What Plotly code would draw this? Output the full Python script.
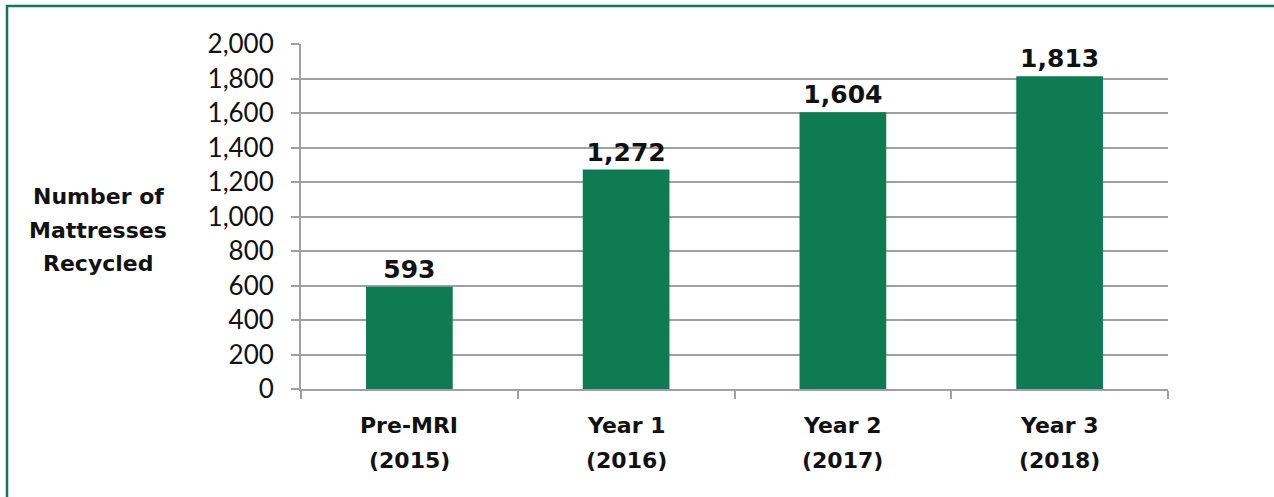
import plotly.graph_objects as go

categories = ["Pre-MRI", "Year 1", "Year 2", "Year 3"]
years = ["(2015)", "(2016)", "(2017)", "(2018)"]
values = [593, 1272, 1604, 1813]
y_ticks = [0, 200, 400, 600, 800, 1000, 1200, 1400, 1600, 1800, 2000]
y_title_lines = ["Number of", "Mattresses", "Recycled"]

GREEN = "#0E7B54"
GRID = "#A0A0A0"
BOLD_FONT = "DejaVu Sans"
TICK_FONT = "Lato"

fig = go.Figure()
fig.add_trace(go.Bar(
    x=categories, y=values,
    marker=dict(color=GREEN, line=dict(width=0)),
    texttemplate="%{y:,}", textposition="outside", cliponaxis=False,
    textfont=dict(family=BOLD_FONT, size=25, color="#111111", weight="bold"),
    hoverinfo="skip",
))

L, R, T, B = 301, 106, 44, 108
W, H = 1274, 497
pw, ph = W - L - R, H - T - B

def px_x(p):
    return (p - L) / pw

def px_y(p):
    return (H - B - p) / ph

annotations = []
for name, yr in zip(categories, years):
    for txt, py in ((name, 425), (yr, 460)):
        annotations.append(dict(
            text=f"<b>{txt}</b>", x=name, xref="x", yref="paper", y=px_y(py),
            xanchor="center", yanchor="middle", showarrow=False,
            font=dict(family=BOLD_FONT, size=22, color="#111111"),
        ))
for txt, py in zip(y_title_lines, (196, 230, 263)):
    annotations.append(dict(
        text=f"<b>{txt}</b>", xref="paper", yref="paper", x=px_x(98), y=px_y(py),
        xanchor="center", yanchor="middle", showarrow=False,
        font=dict(family=BOLD_FONT, size=22, color="#111111"),
    ))

fig.update_layout(
    width=W, height=H,
    margin=dict(l=L, r=R, t=T, b=B, pad=0),
    plot_bgcolor="white", paper_bgcolor="white",
    bargap=0.6,
    showlegend=False,
    font=dict(family=TICK_FONT, color="#111111"),
    xaxis=dict(
        type="category", showgrid=False, showline=True, linecolor=GRID, linewidth=2,
        ticks="outside", tickson="boundaries", ticklen=8, tickcolor=GRID, tickwidth=2,
        showticklabels=False,
    ),
    yaxis=dict(
        range=[0, 2000], tickvals=y_ticks, tickformat=",",
        showgrid=True, gridcolor=GRID, gridwidth=1.5,
        showline=True, linecolor=GRID, linewidth=2,
        ticks="outside", ticklen=8, tickcolor=GRID, tickwidth=1.5,
        tickfont=dict(family=TICK_FONT, size=26, color="#111111"),
        ticklabelstandoff=12, zeroline=False,
    ),
    annotations=annotations,
    shapes=[dict(
        type="rect", xref="paper", yref="paper",
        x0=px_x(7), x1=px_x(1290), y0=px_y(510), y1=px_y(6),
        line=dict(color=GREEN, width=2.5), fillcolor="rgba(0,0,0,0)", layer="below",
    )],
)

fig.write_html(
    "out.html",
    config={"displayModeBar": False},
    post_script="document.body.style.margin='0';document.body.style.padding='0';",
)
